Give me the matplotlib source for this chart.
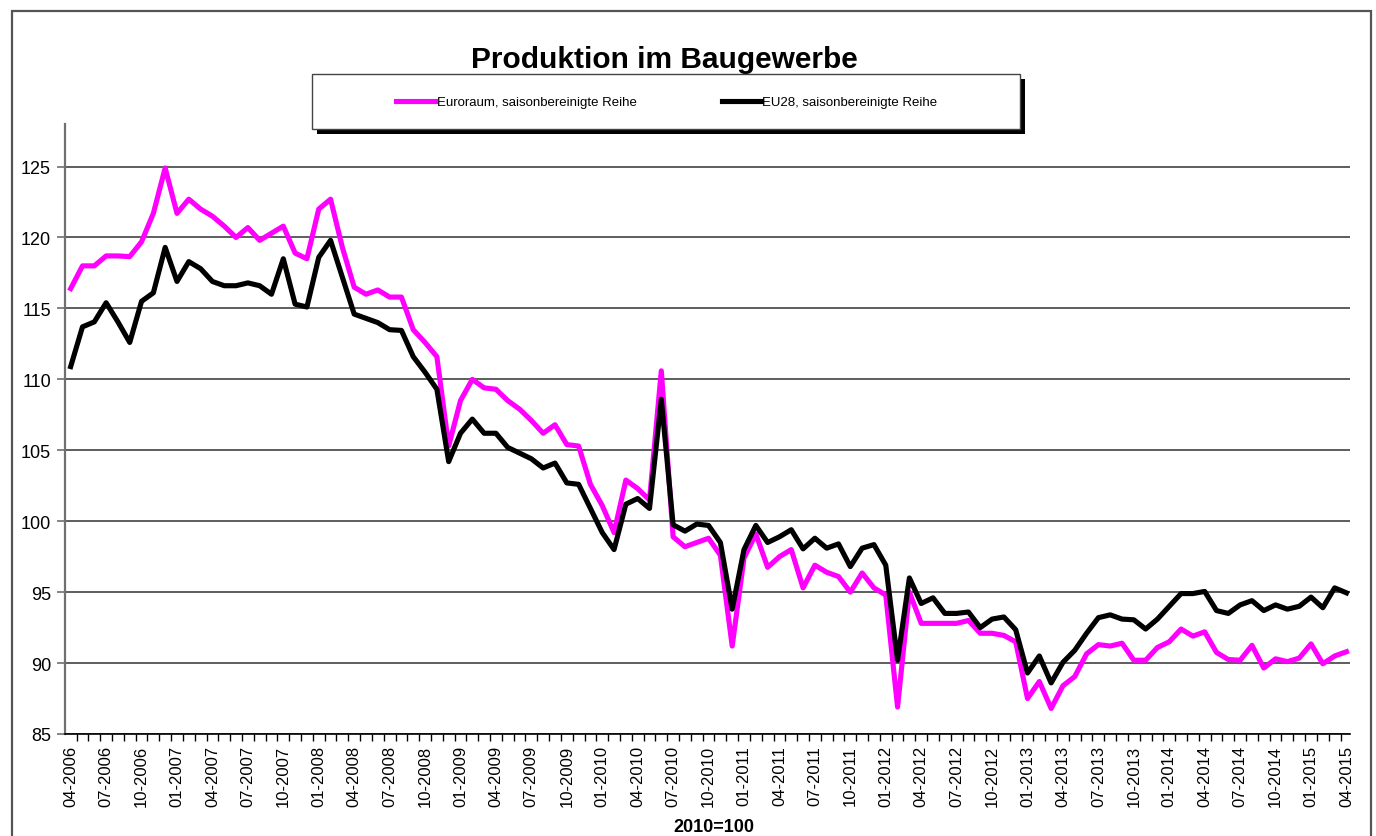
import matplotlib
matplotlib.use("Agg")
import matplotlib.pyplot as plt
from matplotlib.patches import Rectangle
from matplotlib.ticker import FixedLocator, NullFormatter
import numpy as np

plt.rcParams['font.family'] = ['Liberation Sans', 'DejaVu Sans']

# ---- data ----
start_year, start_month = 2006, 4
n_months = 109
month_labels = []
for i in range(n_months):
    m = (start_month - 1 + i) % 12 + 1
    y = start_year + (start_month - 1 + i) // 12
    month_labels.append(f"{m:02d}-{y}")

euroraum = [116.4, 118.0, 118.0, 118.7, 118.7, 118.65, 119.7, 121.7, 124.9, 121.7,
            122.7, 122.0, 121.5, 120.8, 120.0, 120.7, 119.8, 120.3, 120.8, 118.9,
            118.5, 122.0, 122.7, 119.3, 116.5, 116.0, 116.3, 115.8, 115.8, 113.5,
            112.6, 111.6, 105.3, 108.5, 110.0, 109.4, 109.3, 108.5, 107.9, 107.1,
            106.2, 106.8, 105.4, 105.3, 102.6, 101.1, 99.2, 102.9, 102.3, 101.5,
            110.6, 98.9, 98.2, 98.5, 98.8, 97.6, 91.2, 97.4, 99.1, 96.75,
            97.5, 98.0, 95.3, 96.9, 96.4, 96.1, 95.0, 96.35, 95.3, 94.8,
            86.9, 95.0, 92.8, 92.8, 92.8, 92.8, 93.0, 92.1, 92.1, 91.95,
            91.5, 87.5, 88.7, 86.8, 88.4, 89.05, 90.65, 91.3, 91.2, 91.4,
            90.2, 90.2, 91.1, 91.5, 92.4, 91.9, 92.2, 90.75, 90.25, 90.2,
            91.25, 89.65, 90.3, 90.1, 90.35, 91.35, 89.95, 90.5, 90.8]

eu28 = [110.9, 113.7, 114.05, 115.4, 114.05, 112.6, 115.5, 116.1, 119.3, 116.9,
        118.3, 117.8, 116.9, 116.6, 116.6, 116.8, 116.6, 116.0, 118.5, 115.3,
        115.1, 118.6, 119.8, 117.2, 114.6, 114.3, 114.0, 113.5, 113.45, 111.6,
        110.5, 109.3, 104.2, 106.2, 107.2, 106.2, 106.2, 105.2, 104.8, 104.4,
        103.75, 104.1, 102.7, 102.6, 100.9, 99.2, 98.0, 101.2, 101.6, 100.9,
        108.6, 99.75, 99.3, 99.8, 99.7, 98.5, 93.8, 98.0, 99.7, 98.5,
        98.9, 99.4, 98.05, 98.8, 98.1, 98.4, 96.8, 98.1, 98.35, 96.9,
        90.2, 96.0, 94.2, 94.6, 93.5, 93.5, 93.6, 92.5, 93.1, 93.25,
        92.35, 89.3, 90.5, 88.6, 90.05, 90.9, 92.1, 93.2, 93.4, 93.1,
        93.05, 92.4, 93.1, 94.0, 94.9, 94.9, 95.05, 93.7, 93.5, 94.1,
        94.4, 93.7, 94.1, 93.8, 94.0, 94.65, 93.9, 95.3, 94.95]

series_names = ["Euroraum, saisonbereinigte Reihe", "EU28, saisonbereinigte Reihe"]
y_ticks = [85, 90, 95, 100, 105, 110, 115, 120, 125]

# ---- figure ----
W, H = 1376, 837
fig = plt.figure(figsize=(W / 100, H / 100), dpi=100)

def fx(px):
    return px / W

def fy(py):
    return 1 - py / H

# outer border
fig.patches.append(Rectangle((fx(12), fy(860)), fx(1371) - fx(12), fy(12) - fy(860),
                             transform=fig.transFigure, fill=False,
                             edgecolor='#555555', linewidth=1.6, zorder=0))

ax = fig.add_axes([fx(65), fy(735), fx(1350) - fx(65), fy(125) - fy(735)])
x = np.arange(n_months)

l1, = ax.plot(x, euroraum, color='#FF00FF', linewidth=3.7, label=series_names[0], zorder=3)
l2, = ax.plot(x, eu28, color='black', linewidth=3.7, label=series_names[1], zorder=4)

ax.set_ylim(85, 128)
ax.set_xlim(-0.48, 108.3)

ax.set_yticks(y_ticks)
ax.set_yticklabels([str(v) for v in y_ticks], fontsize=13)
ax.yaxis.grid(True, color='#505050', linewidth=1.3)
ax.set_axisbelow(True)

label_idx = list(range(0, n_months, 3))
ax.set_xticks(label_idx)
ax.set_xticklabels([month_labels[i] for i in label_idx], rotation=90, fontsize=12)
ax.tick_params(axis='x', which='major', length=0, pad=8)
ax.xaxis.set_minor_locator(FixedLocator(list(np.arange(-0.5, n_months + 0.5, 1.0))))
ax.xaxis.set_minor_formatter(NullFormatter())
ax.tick_params(axis='x', which='minor', length=5, width=1.0, color='black', direction='out')
ax.tick_params(axis='y', length=6, width=1.2, color='#707070', pad=4)

for s in ['top', 'right']:
    ax.spines[s].set_visible(False)
ax.spines['left'].set_color('#707070')
ax.spines['left'].set_linewidth(1.6)
ax.spines['bottom'].set_color('black')
ax.spines['bottom'].set_linewidth(1.2)

# title
fig.text(fx(664), fy(60), "Produktion im Baugewerbe", ha='center', va='center',
         fontsize=21.5, fontweight='bold')

# legend box with shadow
lx0, lx1, ly0, ly1 = 312, 1020, 75, 130
fig.patches.append(Rectangle((fx(lx0 + 5), fy(ly1 + 5)), fx(lx1) - fx(lx0), fy(ly0) - fy(ly1),
                             transform=fig.transFigure, facecolor='black', edgecolor='black',
                             linewidth=0, zorder=1))
fig.patches.append(Rectangle((fx(lx0), fy(ly1)), fx(lx1) - fx(lx0), fy(ly0) - fy(ly1),
                             transform=fig.transFigure, facecolor='white', edgecolor='#444444',
                             linewidth=1.0, zorder=2))
leg = fig.legend(handles=[l1, l2], loc='center', bbox_to_anchor=(fx(667), fy(103)),
                 ncol=2, frameon=False, fontsize=9.5, handlelength=2.9,
                 handletextpad=0.15, columnspacing=6.5)
leg.set_zorder(5)

# x-axis caption
fig.text(fx(714), fy(828), "2010=100", ha='center', va='center',
         fontsize=13, fontweight='bold')

fig.savefig("out.png", dpi=100)
